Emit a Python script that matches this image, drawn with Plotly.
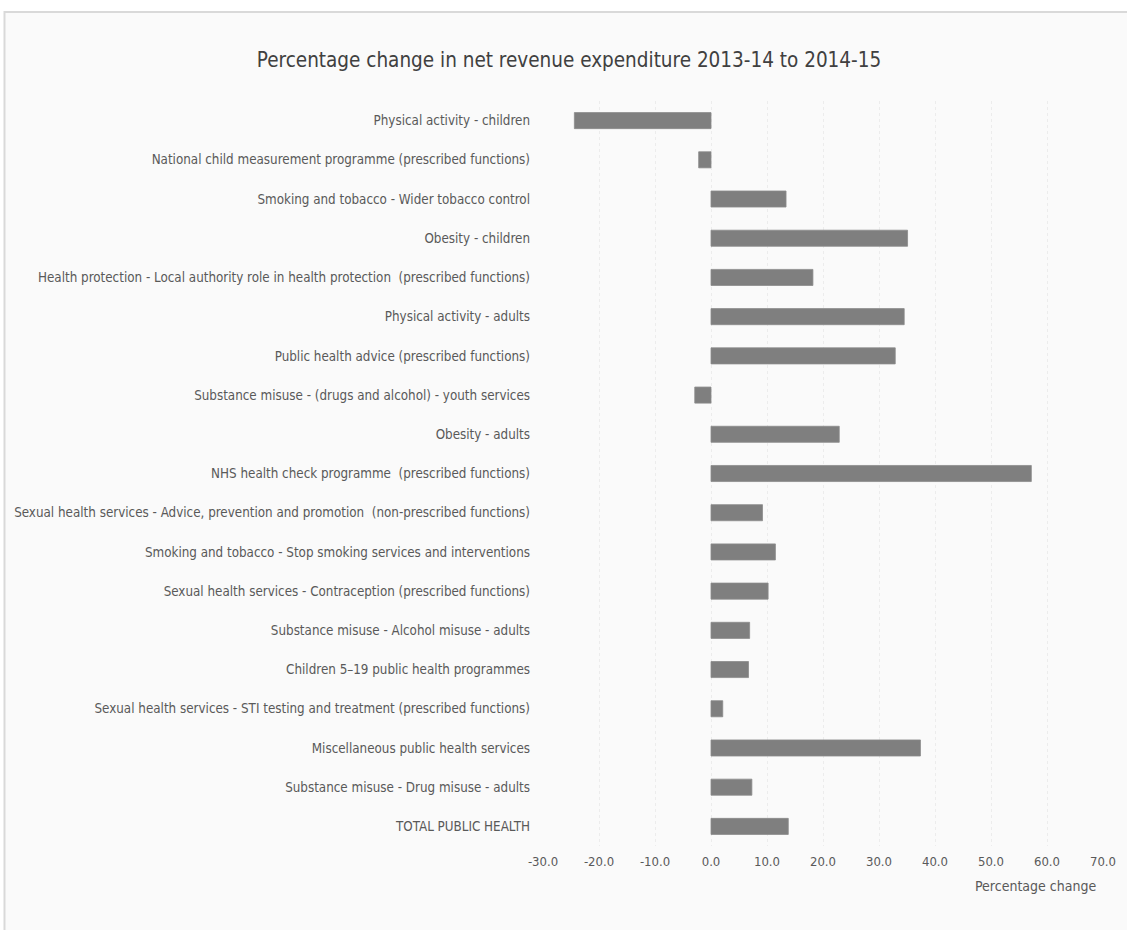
import plotly.graph_objects as go

categories = [
    "Physical activity - children",
    "National child measurement programme (prescribed functions)",
    "Smoking and tobacco - Wider tobacco control",
    "Obesity - children",
    "Health protection - Local authority role in health protection  (prescribed functions)",
    "Physical activity - adults",
    "Public health advice (prescribed functions)",
    "Substance misuse - (drugs and alcohol) - youth services",
    "Obesity - adults",
    "NHS health check programme  (prescribed functions)",
    "Sexual health services - Advice, prevention and promotion  (non-prescribed functions)",
    "Smoking and tobacco - Stop smoking services and interventions",
    "Sexual health services - Contraception (prescribed functions)",
    "Substance misuse - Alcohol misuse - adults",
    "Children 5\u201319 public health programmes",
    "Sexual health services - STI testing and treatment (prescribed functions)",
    "Miscellaneous public health services",
    "Substance misuse - Drug misuse - adults",
    "TOTAL PUBLIC HEALTH",
]

pct_change = [
    -24.4, -2.2, 13.4, 35.1, 18.2, 34.5, 32.9, -2.9, 22.9, 57.2,
    9.2, 11.5, 10.2, 6.9, 6.7, 2.1, 37.4, 7.3, 13.8,
]

tick_values = [-30, -20, -10, 0, 10, 20, 30, 40, 50, 60, 70]
tick_labels = ["-30.0", "-20.0", "-10.0", "0.0", "10.0", "20.0", "30.0",
               "40.0", "50.0", "60.0", "70.0"]

W, H = 1127, 930
ML, MR, MT, MB = 543, 24, 101, 84
PW, PH = W - ML - MR, H - MT - MB

FONT = "DejaVu Sans Condensed, sans-serif"
TXT = "#595959"


def px_x(px):
    return (px - ML) / PW


def px_y(py):
    return (H - MB - py) / PH


fig = go.Figure(
    go.Bar(
        x=pct_change,
        y=categories,
        orientation="h",
        width=0.41,
        marker=dict(color="#7f7f7f", line=dict(color="#8c8c8c", width=0.8)),
        hoverinfo="x+y",
    )
)

fig.update_layout(
    width=W,
    height=H,
    margin=dict(l=ML, r=MR, t=MT, b=MB, autoexpand=False),
    paper_bgcolor="white",
    plot_bgcolor="rgba(0,0,0,0)",
    showlegend=False,
    font=dict(family=FONT, color=TXT, size=13),
    title=dict(
        text="Percentage change in net revenue expenditure 2013-14 to 2014-15",
        x=569 / W,
        xanchor="center",
        y=1 - 60 / H,
        yanchor="middle",
        font=dict(family=FONT, size=20.5, color="#404040"),
    ),
    xaxis=dict(
        range=[-30, 70],
        tickmode="array",
        tickvals=tick_values,
        ticktext=tick_labels,
        showgrid=True,
        gridcolor="#ececec",
        griddash="dot",
        gridwidth=1,
        zeroline=False,
        showline=False,
        ticks="",
        ticklabelstandoff=6,
        tickfont=dict(size=13, color=TXT),
        fixedrange=True,
    ),
    yaxis=dict(
        autorange="reversed",
        showgrid=False,
        zeroline=False,
        showline=False,
        ticks="",
        ticklabelstandoff=12,
        tickfont=dict(size=13.3, color=TXT),
        fixedrange=True,
    ),
    shapes=[
        dict(
            type="rect",
            xref="paper",
            yref="paper",
            x0=px_x(4.5),
            x1=px_x(W + 10),
            y0=px_y(H + 10),
            y1=px_y(12),
            fillcolor="#fafafa",
            line=dict(color="#d9d9d9", width=2),
            layer="below",
        )
    ],
    annotations=[
        dict(
            text="Percentage change",
            xref="paper",
            yref="paper",
            x=px_x(1098),
            y=px_y(886),
            xanchor="right",
            yanchor="middle",
            showarrow=False,
            font=dict(family=FONT, size=14, color=TXT),
        )
    ],
)

fig.write_html("out.html")
